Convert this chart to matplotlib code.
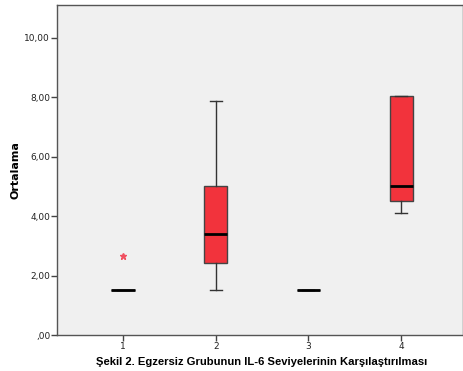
import matplotlib
matplotlib.use("Agg")
import matplotlib.pyplot as plt

groups = [1, 2, 3, 4]
whislo = [1.5, 1.52, 1.5, 4.11]
q1 = [1.5, 2.42, 1.5, 4.51]
med = [1.5, 3.40, 1.5, 5.02]
q3 = [1.5, 5.02, 1.5, 8.05]
whishi = [1.5, 7.88, 1.5, 8.05]
outliers = [[2.64], [], [], []]
yticks = [0, 2, 4, 6, 8, 10]
ytick_labels = [",00", "2,00", "4,00", "6,00", "8,00", "10,00"]

fig = plt.figure(figsize=(4.64, 3.71), dpi=100)
ax = fig.add_axes([0.123, 0.097, 0.875, 0.89])
ax.set_facecolor("#f0f0f0")

stats = []
for i in range(len(groups)):
    stats.append({
        "whislo": whislo[i], "q1": q1[i], "med": med[i],
        "q3": q3[i], "whishi": whishi[i], "fliers": outliers[i],
    })

ax.bxp(stats, positions=groups, widths=0.25, patch_artist=True,
       showfliers=False,
       boxprops=dict(facecolor="#f2333c", edgecolor="#444444", linewidth=1.0),
       medianprops=dict(color="black", linewidth=2),
       whiskerprops=dict(color="#333333", linewidth=1.0),
       capprops=dict(color="#333333", linewidth=1.0),
       capwidths=0.13)

for i, pts in enumerate(outliers):
    for p in pts:
        ax.plot(groups[i], p, marker="*", color="#f05060", markersize=5,
                linestyle="none")

ax.set_xlim(0.29, 4.667)
ax.set_ylim(0, 11.1)
ax.set_xticks(groups)
ax.set_xticklabels([str(g) for g in groups], fontsize=6.5, color="#222222")
ax.set_yticks(yticks)
ax.set_yticklabels(ytick_labels, fontsize=6.5, color="#222222")
ax.tick_params(direction="out", length=4, width=1, color="#444444", pad=1)

for s in ax.spines.values():
    s.set_color("#555555")
    s.set_linewidth(1.0)

ax.set_ylabel("Ortalama", fontsize=8, fontweight="bold", labelpad=3)
fig.text(0.563, 0.024,
         "Şekil 2. Egzersiz Grubunun IL-6 Seviyelerinin Karşılaştırılması",
         fontsize=8.1, fontweight="bold", ha="center", va="center",
         family=["Liberation Sans", "DejaVu Sans"])

fig.savefig("out.png", dpi=100)
